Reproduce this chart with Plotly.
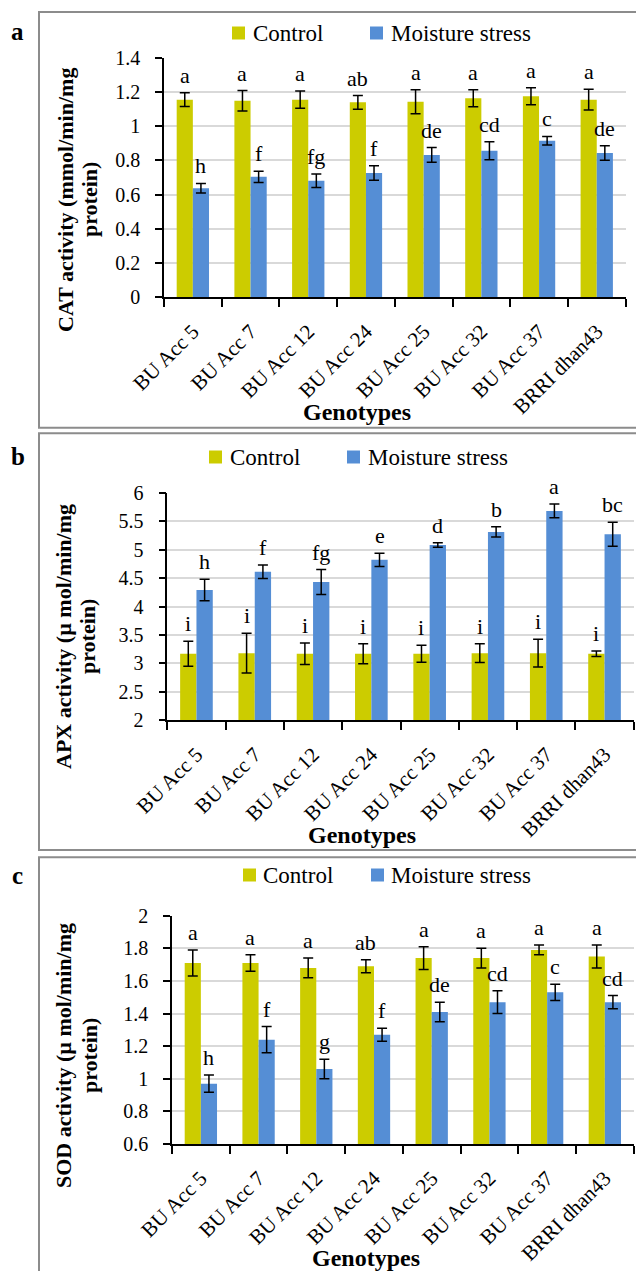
import plotly.graph_objects as go

W, H = 636, 1271

genotypes = ["BU Acc 5", "BU Acc 7", "BU Acc 12", "BU Acc 24", "BU Acc 25",
             "BU Acc 32", "BU Acc 37", "BRRI dhan43"]
series_names = ["Control", "Moisture stress"]

# Panel a: CAT activity
cat_control = [1.155, 1.148, 1.155, 1.139, 1.142, 1.163, 1.175, 1.155]
cat_control_err = [0.040, 0.060, 0.050, 0.040, 0.070, 0.050, 0.050, 0.060]
cat_stress = [0.637, 0.704, 0.681, 0.726, 0.832, 0.856, 0.915, 0.843]
cat_stress_err = [0.028, 0.033, 0.040, 0.042, 0.043, 0.053, 0.025, 0.042]
cat_control_letters = ["a", "a", "a", "ab", "a", "a", "a", "a"]
cat_stress_letters = ["h", "f", "fg", "f", "de", "cd", "c", "de"]

# Panel b: APX activity
apx_control = [3.17, 3.18, 3.17, 3.17, 3.17, 3.18, 3.18, 3.17]
apx_control_err = [0.22, 0.35, 0.19, 0.175, 0.15, 0.165, 0.245, 0.05]
apx_stress = [4.29, 4.61, 4.43, 4.82, 5.08, 5.31, 5.68, 5.27]
apx_stress_err = [0.19, 0.12, 0.22, 0.115, 0.04, 0.09, 0.12, 0.21]
apx_control_letters = ["i", "i", "i", "i", "i", "i", "i", "i"]
apx_stress_letters = ["h", "f", "fg", "e", "d", "b", "a", "bc"]

# Panel c: SOD activity
sod_control = [1.71, 1.71, 1.68, 1.69, 1.74, 1.74, 1.79, 1.75]
sod_control_err = [0.08, 0.05, 0.06, 0.04, 0.07, 0.06, 0.03, 0.07]
sod_stress = [0.97, 1.24, 1.06, 1.27, 1.41, 1.47, 1.53, 1.47]
sod_stress_err = [0.053, 0.08, 0.06, 0.04, 0.06, 0.07, 0.05, 0.04]
sod_control_letters = ["a", "a", "a", "ab", "a", "a", "a", "a"]
sod_stress_letters = ["h", "f", "g", "f", "de", "cd", "c", "cd"]

y_titles = [("CAT activity (mmol/min/mg", "protein)"),
            ("APX activity (µ mol/min/mg", "protein)"),
            ("SOD activity (µ mol/min/mg", "protein)")]
panel_labels = ["a", "b", "c"]
x_title = "Genotypes"

CONTROL_COLOR = "#CCCC00"
STRESS_COLOR = "#558ED5"
FONT = "Liberation Serif"


def px_x(p):
    return p / W


def px_y(p):
    return 1 - p / H


# layout geometry (pixels)
panels = [
    dict(plot_x=(164, 625.6), plot_y=(57.7, 297.3), yrange=[0, 1.4], dtick=0.2,
         box=(39, 12, 660, 427.7), label_y=32,
         legend_items=[(232, 33, 251), (370, 33, 389)],
         ytitle_x=(65, 89), ytitle_y=200, xtitle=(357, 411.7),
         data=(cat_control, cat_control_err, cat_stress, cat_stress_err,
               cat_control_letters, cat_stress_letters)),
    dict(plot_x=(167.3, 633.7), plot_y=(492.7, 720.3), yrange=[2, 6], dtick=0.5,
         box=(39, 433.3, 660, 850), label_y=456,
         legend_items=[(209, 457, 228), (347, 457, 366)],
         ytitle_x=(63, 87), ytitle_y=637, xtitle=(362, 835),
         data=(apx_control, apx_control_err, apx_stress, apx_stress_err,
               apx_control_letters, apx_stress_letters)),
    dict(plot_x=(172, 633.7), plot_y=(915.7, 1144), yrange=[0.6, 2], dtick=0.2,
         box=(39, 857.3, 660, 1290), label_y=875,
         legend_items=[(243, 875, 261), (371, 875, 389)],
         ytitle_x=(63, 89), ytitle_y=1056, xtitle=(366, 1258),
         data=(sod_control, sod_control_err, sod_stress, sod_stress_err,
               sod_control_letters, sod_stress_letters)),
]

fig = go.Figure()
annotations = []
shapes = []
layout_axes = {}
x_idx = list(range(len(genotypes)))
OFF = 0.14
SQ = 13  # legend square size (px)
colors = [CONTROL_COLOR, STRESS_COLOR]

for i, p in enumerate(panels):
    n = "" if i == 0 else str(i + 1)
    xa, ya = "x" + n, "y" + n
    c, ce, s, se, cl, sl = p["data"]
    fig.add_trace(go.Bar(
        x=x_idx, y=c, name=series_names[0], marker_color=CONTROL_COLOR,
        marker_line_width=0, showlegend=False,
        error_y=dict(type="data", array=ce, color="black", thickness=1.5, width=5),
        xaxis=xa, yaxis=ya))
    fig.add_trace(go.Bar(
        x=x_idx, y=s, name=series_names[1], marker_color=STRESS_COLOR,
        marker_line_width=0, showlegend=False,
        error_y=dict(type="data", array=se, color="black", thickness=1.5, width=5),
        xaxis=xa, yaxis=ya))

    layout_axes["xaxis" + n] = dict(
        domain=[px_x(p["plot_x"][0]), px_x(p["plot_x"][1])],
        anchor=ya, range=[-0.5, len(genotypes) - 0.5], automargin=False,
        tickmode="array", tickvals=x_idx, ticktext=genotypes, tickangle=-45,
        ticks="", showgrid=False, zeroline=False,
        showline=True, linecolor="black", linewidth=1.5,
        tickfont=dict(family=FONT, size=21, color="black"),
        ticklabelstandoff=12,
        minor=dict(tickmode="array",
                   tickvals=[k - 0.5 for k in range(len(genotypes) + 1)],
                   ticks="outside", ticklen=8, tickwidth=1.5, tickcolor="black",
                   showgrid=False),
    )
    layout_axes["yaxis" + n] = dict(
        domain=[px_y(p["plot_y"][1]), px_y(p["plot_y"][0])],
        anchor=xa, range=p["yrange"], dtick=p["dtick"], tick0=p["yrange"][0],
        automargin=False,
        showgrid=True, gridcolor="#d9d9d9", gridwidth=1.5, zeroline=False,
        showline=True, linecolor="black", linewidth=1.5,
        ticks="outside", ticklen=7, tickwidth=1.5, tickcolor="black",
        tickfont=dict(family=FONT, size=20, color="black"),
        ticklabelstandoff=11,
    )

    # legend (square + text)
    for (sx, sy, tx), name, col in zip(p["legend_items"], series_names, colors):
        shapes.append(dict(type="rect", xref="paper", yref="paper",
                           x0=px_x(sx), x1=px_x(sx + SQ),
                           y0=px_y(sy + SQ / 2), y1=px_y(sy - SQ / 2),
                           line=dict(width=0), fillcolor=col))
        annotations.append(dict(
            x=px_x(tx), y=px_y(sy), xref="paper", yref="paper", text=name,
            showarrow=False, xanchor="left", yanchor="middle",
            font=dict(family=FONT, size=23, color="black")))

    # significance letters
    for k in x_idx:
        annotations.append(dict(
            x=k - OFF, y=c[k] + ce[k], xref=xa, yref=ya, text=cl[k],
            showarrow=False, yanchor="bottom", yshift=3,
            font=dict(family=FONT, size=22, color="black")))
        annotations.append(dict(
            x=k + OFF, y=s[k] + se[k], xref=xa, yref=ya, text=sl[k],
            showarrow=False, yanchor="bottom", yshift=3,
            font=dict(family=FONT, size=22, color="black")))

    # y title lines
    for line, xp in zip(y_titles[i], p["ytitle_x"]):
        annotations.append(dict(
            x=px_x(xp), y=px_y(p["ytitle_y"]), xref="paper", yref="paper",
            text="<b>" + line + "</b>", textangle=-90, showarrow=False,
            xanchor="center", yanchor="middle",
            font=dict(family=FONT, size=22, color="black")))
    # x title
    annotations.append(dict(
        x=px_x(p["xtitle"][0]), y=px_y(p["xtitle"][1]), xref="paper", yref="paper",
        text="<b>" + x_title + "</b>", showarrow=False,
        xanchor="center", yanchor="middle",
        font=dict(family=FONT, size=24, color="black")))
    # panel label
    annotations.append(dict(
        x=px_x(17.5), y=px_y(p["label_y"]), xref="paper", yref="paper",
        text="<b>" + panel_labels[i] + "</b>", showarrow=False,
        xanchor="center", yanchor="middle",
        font=dict(family=FONT, size=25, color="black")))
    # panel border
    bx0, by0, bx1, by1 = p["box"]
    shapes.append(dict(type="rect", xref="paper", yref="paper",
                       x0=px_x(bx0), x1=px_x(bx1), y0=px_y(by1), y1=px_y(by0),
                       line=dict(color="#8c8c8c", width=2), fillcolor="rgba(0,0,0,0)",
                       layer="below"))

fig.update_layout(
    width=W, height=H, margin=dict(l=0, r=0, t=0, b=0, autoexpand=False),
    paper_bgcolor="white", plot_bgcolor="white",
    barmode="group", bargap=0.44, bargroupgap=0,
    showlegend=False,
    annotations=annotations, shapes=shapes,
    font=dict(family=FONT, color="black"),
    **layout_axes,
)

fig.write_html("out.html")
